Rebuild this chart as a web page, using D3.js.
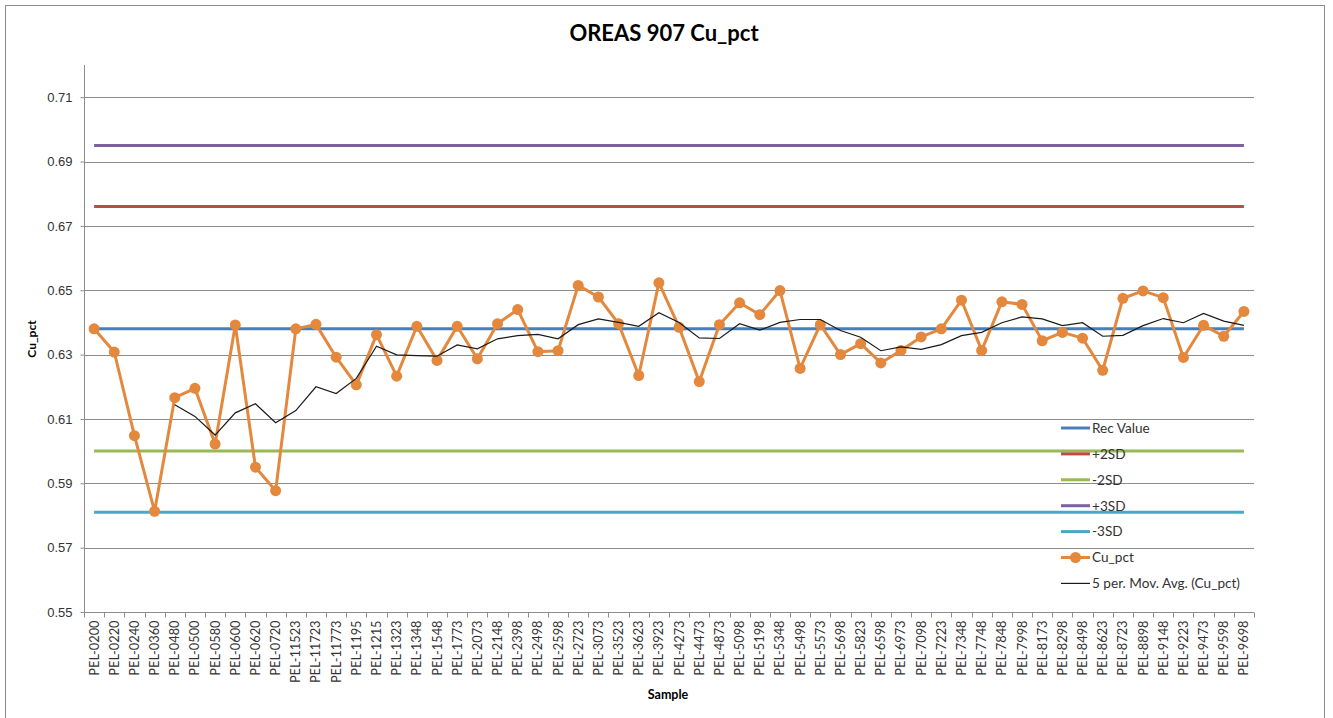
<!DOCTYPE html>
<html>
<head>
<meta charset="utf-8">
<script src="https://cdn.jsdelivr.net/npm/d3@7"></script>
<style>
  body { margin: 0; background: #fff; }
  svg { font-family: Lato, "Liberation Sans", sans-serif; }
  .grid line { stroke: #8c8c8c; stroke-width: 1; }
  .axis path, .axis line { stroke: #8c8c8c; }
  .axis text { fill: #333; }
</style>
</head>
<body>
<svg width="1333" height="718"></svg>
<script>
// sample ids along the x axis
var samples = ["PEL-0200","PEL-0220","PEL-0240","PEL-0360","PEL-0480","PEL-0500","PEL-0580","PEL-0600","PEL-0620","PEL-0720",
  "PEL-11523","PEL-11723","PEL-11773","PEL-1195","PEL-1215","PEL-1323","PEL-1348","PEL-1548","PEL-1773","PEL-2073",
  "PEL-2148","PEL-2398","PEL-2498","PEL-2598","PEL-2723","PEL-3073","PEL-3523","PEL-3623","PEL-3923","PEL-4273",
  "PEL-4473","PEL-4873","PEL-5098","PEL-5198","PEL-5348","PEL-5498","PEL-5573","PEL-5698","PEL-5823","PEL-6598",
  "PEL-6973","PEL-7098","PEL-7223","PEL-7348","PEL-7748","PEL-7848","PEL-7998","PEL-8173","PEL-8298","PEL-8498",
  "PEL-8623","PEL-8723","PEL-8898","PEL-9148","PEL-9223","PEL-9473","PEL-9598","PEL-9698"];

var cuPct = [0.638, 0.6308, 0.6048, 0.5813, 0.6166, 0.6195, 0.6022, 0.6392, 0.5950, 0.5877,
  0.638, 0.6394, 0.6292, 0.6206, 0.6362, 0.6233, 0.6388, 0.6282, 0.6388, 0.6287,
  0.6396, 0.6440, 0.6309, 0.6312, 0.6515, 0.6479, 0.6396, 0.6235, 0.6523, 0.6385,
  0.6216, 0.6393, 0.6461, 0.6424, 0.6499, 0.6257, 0.6393, 0.6300, 0.6334, 0.6274,
  0.6313, 0.6355, 0.6380, 0.6469, 0.6313, 0.6464, 0.6456, 0.6343, 0.6369, 0.6351,
  0.6251, 0.6475, 0.6498, 0.6477, 0.6291, 0.6391, 0.6357, 0.6434];

// 5 per. moving average (first 4 empty)
var movAvg = [null, null, null, null, 0.6144, 0.6108, 0.6050, 0.6119, 0.6147, 0.6088,
  0.6126, 0.6200, 0.6179, 0.6226, 0.6326, 0.6299, 0.6297, 0.6295, 0.6330, 0.6318,
  0.6349, 0.6359, 0.6363, 0.6349, 0.6393, 0.6411, 0.6400, 0.6388, 0.6430, 0.6400,
  0.6352, 0.6350, 0.6396, 0.6376, 0.6400, 0.6409, 0.6409, 0.6375, 0.6354, 0.6312,
  0.6324, 0.6316, 0.6331, 0.6359, 0.6369, 0.6399, 0.6417, 0.6411, 0.6390, 0.6399,
  0.6357, 0.6360, 0.6390, 0.6412, 0.6399, 0.6428, 0.6404, 0.6391];

var limitNames = ["Rec Value", "+2SD", "-2SD", "+3SD", "-3SD"];
var limitValues = [0.638, 0.676, 0.600, 0.695, 0.581];
var limitColors = ["#4a7ebb", "#be4b48", "#98b954", "#7d60a0", "#46aac5"];

var yTicks = [0.55, 0.57, 0.59, 0.61, 0.63, 0.65, 0.67, 0.69, 0.71];

var svg = d3.select("svg");

// outer chart frame
svg.append("rect")
  .attr("x", 5.5).attr("y", 5.5)
  .attr("width", 1319).attr("height", 730)
  .attr("fill", "none").attr("stroke", "#8c8c8c");

var x = d3.scaleBand().domain(samples).range([84, 1254]).padding(0);
var y = d3.scaleLinear().domain([0.55, 0.72]).range([612, 65]);
var cx = function(d) { return x(d) + x.bandwidth() / 2; };

// gridlines
svg.append("g").attr("class", "grid")
  .selectAll("line")
  .data(yTicks.slice(1))
  .enter().append("line")
  .attr("x1", 84).attr("x2", 1254)
  .attr("y1", function(d) { return Math.round(y(d)) + 0.5; })
  .attr("y2", function(d) { return Math.round(y(d)) + 0.5; });

// y axis
var yAxis = svg.append("g").attr("class", "axis")
  .attr("transform", "translate(84.5,0)")
  .call(d3.axisLeft(y).tickValues(yTicks).tickSize(4).tickSizeOuter(0).tickPadding(8)
    .tickFormat(d3.format(".2f")));
yAxis.select(".domain").attr("d", "M0,65V612");
yAxis.selectAll("text").style("font-size", "13px");

// x axis
var xAxis = svg.append("g").attr("class", "axis")
  .attr("transform", "translate(0,612.5)");
xAxis.append("line").attr("x1", 84).attr("x2", 1254).attr("y1", 0).attr("y2", 0);
xAxis.selectAll(".tk")
  .data(samples.concat(["end"]))
  .enter().append("line")
  .attr("class", "tk")
  .attr("x1", function(d, i) { return Math.round(i < samples.length ? x(d) : x.range()[1]) + 0.5; })
  .attr("x2", function(d, i) { return Math.round(i < samples.length ? x(d) : x.range()[1]) + 0.5; })
  .attr("y1", 0).attr("y2", 5);
xAxis.selectAll(".lbl")
  .data(samples)
  .enter().append("text")
  .attr("class", "lbl")
  .attr("transform", function(d) { return "translate(" + (cx(d) + 4.5) + ",8) rotate(-90)"; })
  .attr("text-anchor", "end")
  .style("font-size", "12.8px")
  .text(function(d) { return d; });

// control limit lines, from first to last sample
var xFirst = cx(samples[0]), xLast = cx(samples[samples.length - 1]);
svg.append("g").selectAll("line")
  .data(limitValues)
  .enter().append("line")
  .attr("x1", xFirst).attr("x2", xLast)
  .attr("y1", function(d) { return y(d); })
  .attr("y2", function(d) { return y(d); })
  .attr("stroke", function(d, i) { return limitColors[i]; })
  .attr("stroke-width", 3);

// Cu_pct series
var cuLine = d3.line()
  .x(function(d, i) { return cx(samples[i]); })
  .y(function(d) { return y(d); });
svg.append("path")
  .datum(cuPct)
  .attr("d", cuLine)
  .attr("fill", "none")
  .attr("stroke", "#e3883d")
  .attr("stroke-width", 3)
  .attr("stroke-linejoin", "round");
svg.append("g").selectAll("circle")
  .data(cuPct)
  .enter().append("circle")
  .attr("cx", function(d, i) { return cx(samples[i]); })
  .attr("cy", function(d) { return y(d); })
  .attr("r", 5.5)
  .attr("fill", "#e3883d");

// moving average trendline
var maLine = d3.line()
  .defined(function(d) { return d !== null; })
  .x(function(d, i) { return cx(samples[i]); })
  .y(function(d) { return y(d); });
svg.append("path")
  .datum(movAvg)
  .attr("d", maLine)
  .attr("fill", "none")
  .attr("stroke", "#1a1a1a")
  .attr("stroke-width", 1.2);

// legend
var legendNames = limitNames.concat(["Cu_pct", "5 per. Mov. Avg. (Cu_pct)"]);
var legendColors = limitColors.concat(["#e3883d", "#1a1a1a"]);
var lg = svg.append("g").attr("transform", "translate(1061,428)");
var row = lg.selectAll("g")
  .data(legendNames)
  .enter().append("g")
  .attr("transform", function(d, i) { return "translate(0," + (i * 25.9) + ")"; });
row.append("line")
  .attr("x1", 0).attr("x2", 29).attr("y1", 0).attr("y2", 0)
  .attr("stroke", function(d, i) { return legendColors[i]; })
  .attr("stroke-width", function(d, i) { return i == 6 ? 1.2 : 3; });
row.filter(function(d, i) { return i == 5; })
  .append("circle").attr("cx", 14.5).attr("cy", 0).attr("r", 5.5).attr("fill", "#e3883d");
row.append("text")
  .attr("x", 31).attr("y", 4.8)
  .style("font-size", "13.6px")
  .attr("fill", "#333")
  .text(function(d) { return d; });

// titles
svg.append("text")
  .attr("x", 664).attr("y", 41)
  .attr("text-anchor", "middle")
  .style("font-size", "22px").style("font-weight", "bold")
  .text("OREAS 907 Cu_pct");

svg.append("text")
  .attr("transform", "translate(36,339) rotate(-90)")
  .attr("text-anchor", "middle")
  .style("font-size", "12px").style("font-weight", "bold")
  .text("Cu_pct");

svg.append("text")
  .attr("x", 668).attr("y", 699)
  .attr("text-anchor", "middle")
  .style("font-size", "12.5px").style("font-weight", "bold")
  .text("Sample");
</script>
</body>
</html>
